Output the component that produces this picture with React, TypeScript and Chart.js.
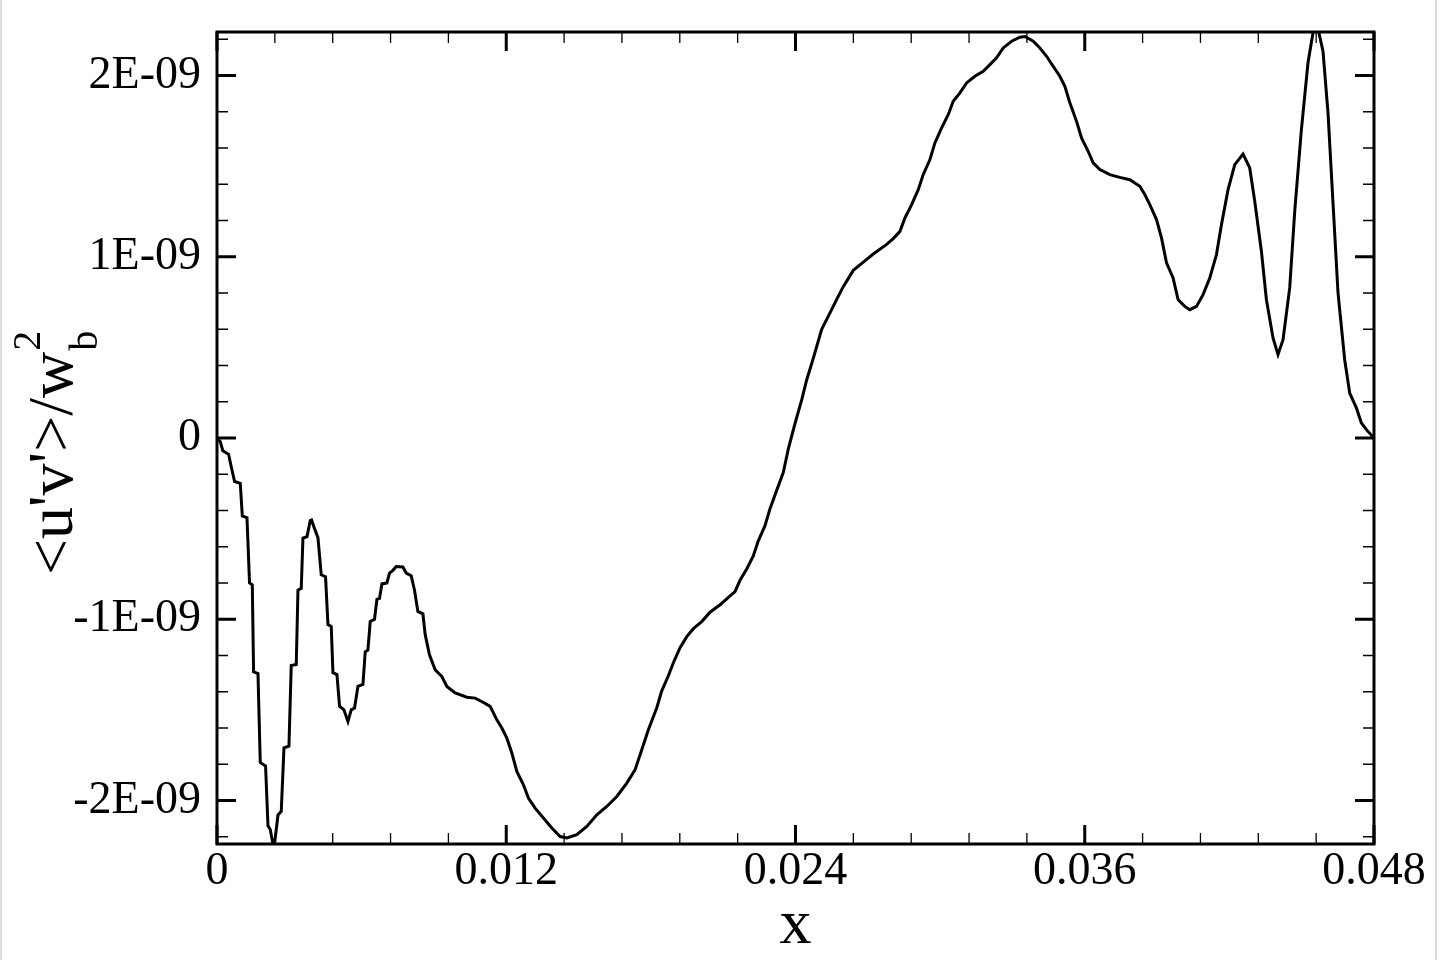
import React, { useEffect, useRef } from "react";
import { Chart, registerables } from "chart.js";

Chart.register(...registerables);

// x positions (streamwise coordinate)
const xValues = [
  0, 0.000137, 0.00024, 0.000482, 0.000593, 0.00073, 0.000966, 0.00105, 0.001244, 0.00135,
  0.001464, 0.001518, 0.0017, 0.001795, 0.002015, 0.002115, 0.00221, 0.00236, 0.00253, 0.002666,
  0.002778, 0.002985, 0.00308, 0.003288, 0.003359, 0.003495, 0.003566, 0.003732, 0.003869, 0.003923,
  0.004047, 0.004188, 0.004325, 0.004503, 0.004603, 0.004739, 0.00481, 0.004976, 0.005084, 0.005266,
  0.005432, 0.005569, 0.005706, 0.005847, 0.006054, 0.006149, 0.006261, 0.006357, 0.006535, 0.006634,
  0.006742, 0.006842, 0.007049, 0.007157, 0.007298, 0.007435, 0.007712, 0.00785, 0.008057, 0.008194,
  0.008334, 0.008542, 0.008637, 0.008815, 0.009052, 0.00933, 0.009537, 0.009881, 0.010366, 0.01071,
  0.011055, 0.011332, 0.01161, 0.011817, 0.012025, 0.012232, 0.012439, 0.012713, 0.01292, 0.013198,
  0.013542, 0.013891, 0.014235, 0.014513, 0.014927, 0.015342, 0.015757, 0.016171, 0.016586, 0.017001,
  0.017345, 0.017623, 0.017896, 0.018245, 0.018452, 0.018726, 0.018933, 0.019211, 0.019489, 0.019762,
  0.02011, 0.020455, 0.02087, 0.021214, 0.021491, 0.021699, 0.021976, 0.02225, 0.022457, 0.022735,
  0.022943, 0.02322, 0.023494, 0.023702, 0.02398, 0.024257, 0.024464, 0.024738, 0.025086, 0.025431,
  0.025709, 0.025982, 0.026397, 0.026812, 0.027226, 0.027782, 0.028055, 0.028333, 0.02854, 0.028818,
  0.029092, 0.029299, 0.029577, 0.029784, 0.030062, 0.030336, 0.030543, 0.030821, 0.031098, 0.031443,
  0.031787, 0.032065, 0.032342, 0.032616, 0.032965, 0.033309, 0.033516, 0.033861, 0.034138, 0.034416,
  0.03469, 0.034967, 0.035175, 0.035382, 0.03566, 0.035867, 0.036141, 0.036348, 0.036626, 0.037041,
  0.037455, 0.03787, 0.038285, 0.038492, 0.038699, 0.038977, 0.039184, 0.039392, 0.039665, 0.039873,
  0.04015, 0.040357, 0.040635, 0.040909, 0.041186, 0.041464, 0.041671, 0.041945, 0.042223, 0.042567,
  0.042845, 0.043052, 0.04333, 0.043537, 0.043811, 0.044018, 0.044226, 0.044503, 0.044711, 0.044988,
  0.045262, 0.045574, 0.045884, 0.046092, 0.046299, 0.046507, 0.046784, 0.046992, 0.047269, 0.047477,
  0.047684, 0.048,
];

// <u'v'>/w_b^2 values
const uvValues = [
  0, -0.02e-9, -0.07e-9, -0.09e-9, -0.16e-9, -0.24e-9, -0.25e-9, -0.43e-9, -0.44e-9, -0.8e-9,
  -0.81e-9, -1.29e-9, -1.3e-9, -1.79e-9, -1.81e-9, -2.14e-9, -2.16e-9, -2.27e-9, -2.08e-9, -2.06e-9,
  -1.71e-9, -1.7e-9, -1.255e-9, -1.25e-9, -0.84e-9, -0.83e-9, -0.552e-9, -0.545e-9, -0.455e-9, -0.452e-9,
  -0.5e-9, -0.55e-9, -0.755e-9, -0.765e-9, -1.03e-9, -1.04e-9, -1.295e-9, -1.305e-9, -1.48e-9, -1.5e-9,
  -1.564e-9, -1.5e-9, -1.49e-9, -1.37e-9, -1.36e-9, -1.18e-9, -1.17e-9, -1.012e-9, -1.0e-9, -0.89e-9,
  -0.885e-9, -0.805e-9, -0.8e-9, -0.745e-9, -0.73e-9, -0.709e-9, -0.712e-9, -0.745e-9, -0.76e-9, -0.84e-9,
  -0.957e-9, -0.97e-9, -1.085e-9, -1.196e-9, -1.279e-9, -1.316e-9, -1.371e-9, -1.407e-9, -1.43e-9, -1.435e-9,
  -1.459e-9, -1.481e-9, -1.555e-9, -1.6e-9, -1.656e-9, -1.738e-9, -1.84e-9, -1.913e-9, -1.987e-9, -2.042e-9,
  -2.097e-9, -2.152e-9, -2.199e-9, -2.207e-9, -2.189e-9, -2.143e-9, -2.079e-9, -2.033e-9, -1.978e-9, -1.904e-9,
  -1.83e-9, -1.72e-9, -1.61e-9, -1.488e-9, -1.395e-9, -1.312e-9, -1.24e-9, -1.157e-9, -1.096e-9, -1.052e-9,
  -1.013e-9, -0.961e-9, -0.92e-9, -0.879e-9, -0.848e-9, -0.785e-9, -0.723e-9, -0.65e-9, -0.567e-9, -0.484e-9,
  -0.39e-9, -0.289e-9, -0.19e-9, -0.06e-9, 0.08e-9, 0.21e-9, 0.32e-9, 0.44e-9, 0.6e-9, 0.69e-9,
  0.765e-9, 0.835e-9, 0.925e-9, 0.97e-9, 1.015e-9, 1.068e-9, 1.1e-9, 1.14e-9, 1.214e-9, 1.288e-9,
  1.37e-9, 1.453e-9, 1.536e-9, 1.628e-9, 1.711e-9, 1.784e-9, 1.858e-9, 1.904e-9, 1.959e-9, 1.996e-9,
  2.023e-9, 2.06e-9, 2.097e-9, 2.152e-9, 2.189e-9, 2.211e-9, 2.215e-9, 2.189e-9, 2.152e-9, 2.106e-9,
  2.051e-9, 1.996e-9, 1.94e-9, 1.849e-9, 1.747e-9, 1.656e-9, 1.582e-9, 1.518e-9, 1.481e-9, 1.453e-9,
  1.438e-9, 1.425e-9, 1.389e-9, 1.343e-9, 1.288e-9, 1.205e-9, 1.104e-9, 0.966e-9, 0.883e-9, 0.763e-9,
  0.726e-9, 0.708e-9, 0.726e-9, 0.791e-9, 0.883e-9, 1.012e-9, 1.177e-9, 1.37e-9, 1.508e-9, 1.567e-9,
  1.49e-9, 1.306e-9, 1.03e-9, 0.763e-9, 0.552e-9, 0.46e-9, 0.542e-9, 0.828e-9, 1.25e-9, 1.701e-9,
  2.07e-9, 2.32e-9, 2.134e-9, 1.794e-9, 1.297e-9, 0.8e-9, 0.432e-9, 0.248e-9, 0.166e-9, 0.083e-9,
  0.046e-9, 0,
];

// axis settings
const xMin = 0;
const xMax = 0.048;
const xMajorStep = 0.012;
const xMinorStep = 0.0024;
const yMin = -2.24e-9;
const yMax = 2.24e-9;
const yMajorStep = 1e-9;
const yMinorStep = 0.2e-9;

const xTitle = "x";
const yTitleMain = "<u'v'>/w";
const yTitleSub = "b";
const yTitleSup = "2";

const FONT = "'Liberation Serif', 'Times New Roman', serif";

const isMultiple = (v: number, step: number) => {
  const r = v / step;
  return Math.abs(r - Math.round(r)) < 1e-6;
};

const frameAndTicks = {
  id: "frameAndTicks",
  beforeDraw(chart: any) {
    const { ctx, width, height } = chart;
    ctx.save();
    ctx.fillStyle = "#ffffff";
    ctx.fillRect(0, 0, width, height);
    ctx.fillStyle = "#dcdcdc";
    ctx.fillRect(0, 0, 2, height);
    ctx.fillRect(width - 5, 0, 2, height);
    ctx.restore();
  },
  afterDatasetsDraw(chart: any) {
    const { ctx, chartArea, scales } = chart;
    const { left, right, top, bottom } = chartArea;
    const xs = scales.x;
    const ys = scales.y;
    ctx.save();
    ctx.strokeStyle = "#000";
    ctx.lineCap = "butt";
    for (const t of xs.ticks) {
      if (!isMultiple(t.value, xMinorStep)) continue;
      const major = isMultiple(t.value, xMajorStep);
      const px = xs.getPixelForValue(t.value);
      const len = major ? 19 : 11;
      ctx.lineWidth = major ? 3 : 1.3;
      ctx.beginPath();
      ctx.moveTo(px, bottom);
      ctx.lineTo(px, bottom - len);
      ctx.moveTo(px, top);
      ctx.lineTo(px, top + len);
      ctx.stroke();
    }
    for (const t of ys.ticks) {
      if (!isMultiple(t.value, yMinorStep)) continue;
      const major = isMultiple(t.value, yMajorStep);
      const py = ys.getPixelForValue(t.value);
      const len = major ? 19 : 11;
      ctx.lineWidth = major ? 3 : 1.3;
      ctx.beginPath();
      ctx.moveTo(left, py);
      ctx.lineTo(left + len, py);
      ctx.moveTo(right, py);
      ctx.lineTo(right - len, py);
      ctx.stroke();
    }
    ctx.lineWidth = 3;
    ctx.strokeRect(left, top, right - left, bottom - top);
    ctx.restore();
  },
  afterDraw(chart: any) {
    const { ctx } = chart;
    ctx.save();
    ctx.fillStyle = "#000";
    ctx.textBaseline = "alphabetic";
    ctx.textAlign = "left";
    ctx.font = `64px ${FONT}`;
    const mainW = ctx.measureText(yTitleMain).width;
    ctx.translate(72, 575);
    ctx.rotate(-Math.PI / 2);
    ctx.fillText(yTitleMain, 0, 0);
    ctx.font = `40px ${FONT}`;
    ctx.fillText(yTitleSub, mainW + 1, 25);
    ctx.fillText(yTitleSup, mainW + 1, -32);
    ctx.restore();
  },
};

export default function App() {
  const canvasRef = useRef<HTMLCanvasElement | null>(null);

  useEffect(() => {
    const canvas = canvasRef.current;
    if (!canvas) return;
    const data = xValues.map((x, i) => ({ x, y: uvValues[i] }));
    const chart = new Chart(canvas, {
      type: "line",
      data: {
        datasets: [
          {
            data,
            borderColor: "#000",
            borderWidth: 3,
            pointRadius: 0,
            tension: 0,
            fill: false,
            clip: 0,
          },
        ],
      },
      options: {
        animation: false,
        responsive: false,
        devicePixelRatio: 1,
        layout: { padding: { top: 32, right: 66, left: 0, bottom: 0 } },
        plugins: { legend: { display: false }, tooltip: { enabled: false }, title: { display: false } },
        scales: {
          x: {
            type: "linear",
            min: xMin,
            max: xMax,
            grid: { display: false, drawTicks: false },
            border: { display: false },
            ticks: {
              stepSize: xMinorStep,
              autoSkip: false,
              maxRotation: 0,
              minRotation: 0,
              padding: 0,
              color: "#000",
              font: { family: FONT, size: 46 },
              callback: (v: any) => {
                const n = Number(v);
                if (!isMultiple(n, xMajorStep)) return "";
                return Math.abs(n) < 1e-12 ? "0" : n.toFixed(3);
              },
            },
            title: {
              display: true,
              text: xTitle,
              color: "#000",
              font: { family: FONT, size: 64, lineHeight: 1 },
              padding: { top: 0, bottom: 2 },
            },
            afterFit: (scale: any) => {
              scale.height = 116;
              scale.paddingLeft = 0;
              scale.paddingRight = 0;
            },
          },
          y: {
            type: "linear",
            min: yMin,
            max: yMax,
            grid: { display: false, drawTicks: false },
            border: { display: false },
            ticks: {
              stepSize: yMinorStep,
              includeBounds: false,
              autoSkip: false,
              padding: 16,
              color: "#000",
              font: { family: FONT, size: 46 },
              callback: (v: any) => {
                const n = Number(v);
                if (!isMultiple(n, yMajorStep)) return "";
                const k = Math.round(n / yMajorStep);
                return k === 0 ? "0" : `${k}E-09`;
              },
            },
            afterFit: (scale: any) => {
              scale.width = 217;
              scale.paddingTop = 0;
              scale.paddingBottom = 0;
            },
          },
        },
      },
      plugins: [frameAndTicks],
    });
    return () => chart.destroy();
  }, []);

  return (
    <div style={{ position: "absolute", left: 0, top: 0, width: 1440, height: 960 }}>
      <canvas ref={canvasRef} width={1440} height={960} style={{ display: "block" }} />
    </div>
  );
}
